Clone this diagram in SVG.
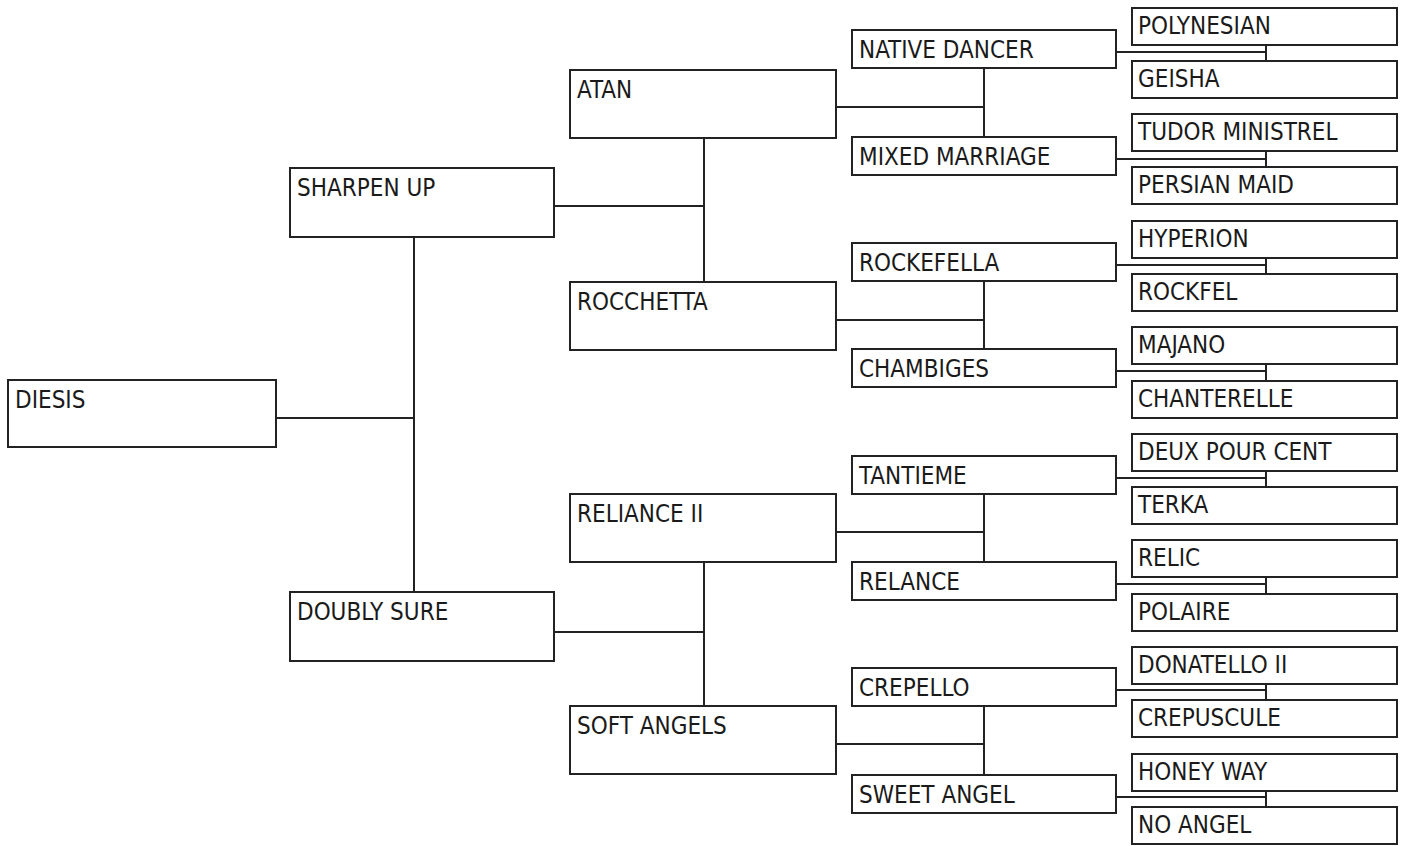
<svg xmlns="http://www.w3.org/2000/svg" width="1405" height="846" viewBox="0 0 1405 846">
<style>
.box rect{fill:#fff;stroke:#222;stroke-width:2}
.box text{font-family:"DejaVu Sans Condensed","DejaVu Sans",sans-serif;font-stretch:condensed;font-size:24px;fill:#1a1a1a}
#connectors path{fill:none;stroke:#222;stroke-width:2}
</style>
<rect width="1405" height="846" fill="#fff"/>
<g id="connectors">
<path d="M276 418H414M414 237V592"/>
<path d="M554 206H704M704 138V282M554 632H704M704 562V706"/>
<path d="M836 107H984M984 68V137M836 320H984M984 281V349M836 532H984M984 494V562M836 744H984M984 706V775"/>
<path d="M1116 52H1266M1266 45V61M1116 159H1266M1266 151V167M1116 265H1266M1266 258V274M1116 371H1266M1266 364V381M1116 478H1266M1266 471V487M1116 584H1266M1266 577V594M1116 690H1266M1266 684V700M1116 797H1266M1266 791V807"/>
</g>
<g id="n-diesis" class="box"><rect x="8" y="380" width="268" height="67"/><text x="15" y="408">DIESIS</text></g>
<g id="n-sharpen-up" class="box"><rect x="290" y="168" width="264" height="69"/><text x="297" y="196">SHARPEN UP</text></g>
<g id="n-doubly-sure" class="box"><rect x="290" y="592" width="264" height="69"/><text x="297" y="620">DOUBLY SURE</text></g>
<g id="n-atan" class="box"><rect x="570" y="70" width="266" height="68"/><text x="577" y="98">ATAN</text></g>
<g id="n-rocchetta" class="box"><rect x="570" y="282" width="266" height="68"/><text x="577" y="310">ROCCHETTA</text></g>
<g id="n-reliance-ii" class="box"><rect x="570" y="494" width="266" height="68"/><text x="577" y="522">RELIANCE II</text></g>
<g id="n-soft-angels" class="box"><rect x="570" y="706" width="266" height="68"/><text x="577" y="734">SOFT ANGELS</text></g>
<g id="n-native-dancer" class="box"><rect x="852" y="30" width="264" height="38"/><text x="859" y="58">NATIVE DANCER</text></g>
<g id="n-mixed-marriage" class="box"><rect x="852" y="137" width="264" height="38"/><text x="859" y="165">MIXED MARRIAGE</text></g>
<g id="n-rockefella" class="box"><rect x="852" y="243" width="264" height="38"/><text x="859" y="271">ROCKEFELLA</text></g>
<g id="n-chambiges" class="box"><rect x="852" y="349" width="264" height="38"/><text x="859" y="377">CHAMBIGES</text></g>
<g id="n-tantieme" class="box"><rect x="852" y="456" width="264" height="38"/><text x="859" y="484">TANTIEME</text></g>
<g id="n-relance" class="box"><rect x="852" y="562" width="264" height="38"/><text x="859" y="590">RELANCE</text></g>
<g id="n-crepello" class="box"><rect x="852" y="668" width="264" height="38"/><text x="859" y="696">CREPELLO</text></g>
<g id="n-sweet-angel" class="box"><rect x="852" y="775" width="264" height="38"/><text x="859" y="803">SWEET ANGEL</text></g>
<g id="n-polynesian" class="box"><rect x="1132" y="8" width="265" height="37"/><text x="1138" y="34">POLYNESIAN</text></g>
<g id="n-geisha" class="box"><rect x="1132" y="61" width="265" height="37"/><text x="1138" y="87">GEISHA</text></g>
<g id="n-tudor-ministrel" class="box"><rect x="1132" y="114" width="265" height="37"/><text x="1138" y="140">TUDOR MINISTREL</text></g>
<g id="n-persian-maid" class="box"><rect x="1132" y="167" width="265" height="37"/><text x="1138" y="193">PERSIAN MAID</text></g>
<g id="n-hyperion" class="box"><rect x="1132" y="221" width="265" height="37"/><text x="1138" y="247">HYPERION</text></g>
<g id="n-rockfel" class="box"><rect x="1132" y="274" width="265" height="37"/><text x="1138" y="300">ROCKFEL</text></g>
<g id="n-majano" class="box"><rect x="1132" y="327" width="265" height="37"/><text x="1138" y="353">MAJANO</text></g>
<g id="n-chanterelle" class="box"><rect x="1132" y="381" width="265" height="37"/><text x="1138" y="407">CHANTERELLE</text></g>
<g id="n-deux-pour-cent" class="box"><rect x="1132" y="434" width="265" height="37"/><text x="1138" y="460">DEUX POUR CENT</text></g>
<g id="n-terka" class="box"><rect x="1132" y="487" width="265" height="37"/><text x="1138" y="513">TERKA</text></g>
<g id="n-relic" class="box"><rect x="1132" y="540" width="265" height="37"/><text x="1138" y="566">RELIC</text></g>
<g id="n-polaire" class="box"><rect x="1132" y="594" width="265" height="37"/><text x="1138" y="620">POLAIRE</text></g>
<g id="n-donatello-ii" class="box"><rect x="1132" y="647" width="265" height="37"/><text x="1138" y="673">DONATELLO II</text></g>
<g id="n-crepuscule" class="box"><rect x="1132" y="700" width="265" height="37"/><text x="1138" y="726">CREPUSCULE</text></g>
<g id="n-honey-way" class="box"><rect x="1132" y="754" width="265" height="37"/><text x="1138" y="780">HONEY WAY</text></g>
<g id="n-no-angel" class="box"><rect x="1132" y="807" width="265" height="37"/><text x="1138" y="833">NO ANGEL</text></g>
</svg>
